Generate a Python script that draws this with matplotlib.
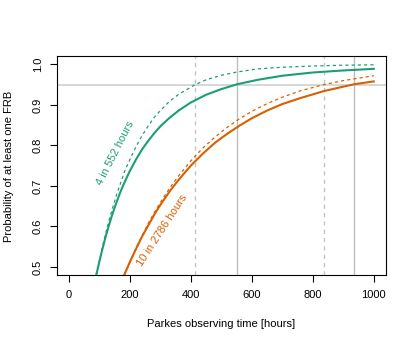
import matplotlib
matplotlib.use("Agg")
import matplotlib.pyplot as plt

plt.rcParams["font.family"] = ["Liberation Sans", "DejaVu Sans"]

# values
# "4 in 552 hours": solid and dashed curves
t_green = [90, 100, 110, 120, 130, 140, 155, 170, 185, 200, 220, 240, 260, 280,
           300, 330, 360, 400, 450, 500, 552, 620, 700, 800, 900, 1000]
p_green = [0.481, 0.513, 0.544, 0.573, 0.599, 0.624, 0.657, 0.687, 0.713,
           0.737, 0.765, 0.790, 0.811, 0.830, 0.847, 0.868, 0.886, 0.906,
           0.925, 0.939, 0.951, 0.962, 0.972, 0.980, 0.985, 0.989]
t_green_d = [90, 100, 110, 120, 130, 140, 155, 170, 185, 200, 220, 240, 260,
             280, 300, 330, 360, 414, 450, 500, 550, 620, 700, 800, 900, 1000]
p_green_d = [0.479, 0.515, 0.549, 0.581, 0.610, 0.637, 0.675, 0.708, 0.740,
             0.765, 0.797, 0.824, 0.848, 0.869, 0.886, 0.909, 0.926, 0.950,
             0.962, 0.973, 0.981, 0.989, 0.993, 0.996, 0.998, 0.999]

# "10 in 2786 hours"
t_orange = [182, 200, 220, 240, 260, 280, 300, 330, 360, 400, 440, 480, 520,
            560, 600, 650, 700, 760, 836, 900, 936, 1000]
p_orange = [0.481, 0.512, 0.544, 0.575, 0.602, 0.629, 0.653, 0.686, 0.715,
            0.750, 0.780, 0.807, 0.829, 0.849, 0.867, 0.886, 0.902, 0.917,
            0.934, 0.945, 0.951, 0.958]
t_orange_d = [182, 200, 220, 240, 260, 280, 300, 330, 360, 400, 440, 480, 520,
              560, 600, 650, 700, 760, 836, 900, 1000]
p_orange_d = [0.480, 0.512, 0.546, 0.577, 0.607, 0.634, 0.659, 0.694, 0.725,
              0.762, 0.794, 0.821, 0.845, 0.866, 0.884, 0.903, 0.919, 0.935,
              0.950, 0.960, 0.972]

# times where each curve reaches 95 %
t95_dashed = [414, 836]
t95_solid = [552, 936]
p_level = 0.95

green = "#1b9e77"
orange = "#d95f02"

fig = plt.figure(figsize=(4.15, 3.46), dpi=100)
ax = fig.add_axes([0.1366, 0.2052, 0.7934, 0.6321])

ax.axhline(p_level, color="#cccccc", lw=1.1, zorder=1)
for t in t95_dashed:
    ax.axvline(t, color="#c4c4c4", lw=1.0, ls=(0, (3, 3)), zorder=1)
for t in t95_solid:
    ax.axvline(t, color="#bdbdbd", lw=1.0, zorder=1)

ax.plot(t_green_d, p_green_d, color=green, lw=0.9, ls=(0, (2.5, 2.5)), zorder=2)
ax.plot(t_orange_d, p_orange_d, color=orange, lw=0.9, ls=(0, (2.5, 2.5)), zorder=2)
ax.plot(t_green, p_green, color=green, lw=1.5, zorder=3)
ax.plot(t_orange, p_orange, color=orange, lw=1.5, zorder=3)

ax.text(152, 0.78, "4 in 552 hours", color=green, fontsize=8, rotation=63,
        rotation_mode="anchor", ha="center", va="center")
ax.text(305, 0.59, "10 in 2786 hours", color=orange, fontsize=8, rotation=57,
        rotation_mode="anchor", ha="center", va="center")

ax.set_xlim(-40, 1040)
ax.set_ylim(0.48, 1.02)
ax.set_xticks([0, 200, 400, 600, 800, 1000])
ax.set_yticks([0.5, 0.6, 0.7, 0.8, 0.9, 1.0])
ax.set_yticklabels(["0.5", "0.6", "0.7", "0.8", "0.9", "1.0"], rotation=90,
                   va="center")
ax.tick_params(axis="both", labelsize=8, length=5, width=0.8)
ax.tick_params(axis="x", pad=6)
ax.tick_params(axis="y", pad=5)
for s in ax.spines.values():
    s.set_linewidth(0.8)

fig.text(221 / 415, 1 - 324 / 346, "Parkes observing time [hours]",
         fontsize=8, ha="center", va="center")
fig.text(9 / 415, 1 - 166 / 346, "Probability of at least one FRB",
         fontsize=8, ha="center", va="center", rotation=90)

fig.savefig("out.png", dpi=100)
